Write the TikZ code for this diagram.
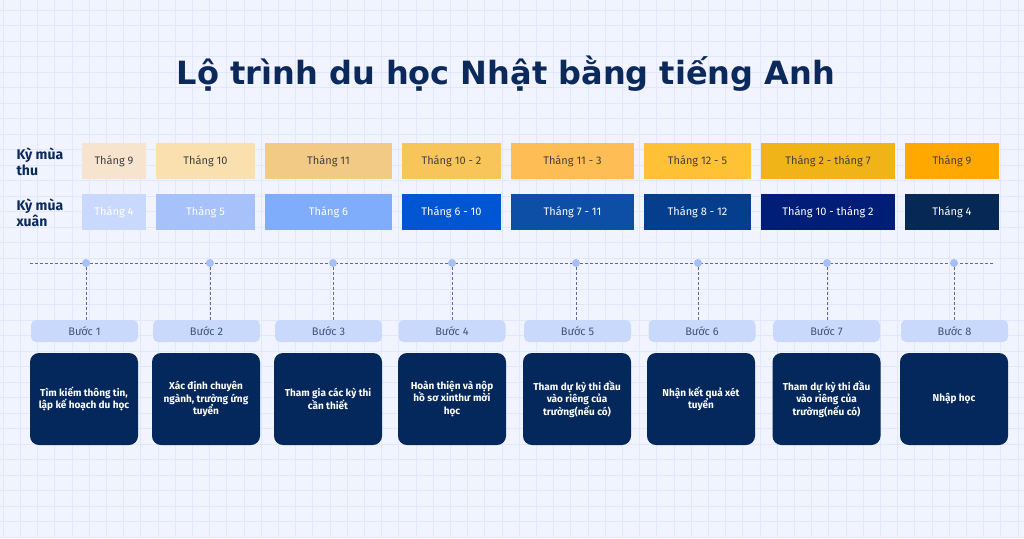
\documentclass[tikz,border=0pt]{standalone}
\usepackage{fontspec}
\setmainfont{Fira Sans}
\newfontfamily\tieudefont{DejaVu Sans}
\usepackage{xcolor}
\usetikzlibrary{positioning,calc}
\definecolor{nen}{HTML}{F1F4FE}
\definecolor{luoi}{HTML}{E2E8FB}
\definecolor{navy}{HTML}{0B2A5B}
\definecolor{hopdam}{HTML}{04285B}
\definecolor{nhat}{HTML}{C9D9FC}
\definecolor{cham}{HTML}{A6C0F7}
% mau ky thu / ky xuan
\definecolor{thu1}{HTML}{F7E4CE}
\definecolor{thu2}{HTML}{FADFAF}
\definecolor{thu3}{HTML}{F2CA85}
\definecolor{thu4}{HTML}{F8C55A}
\definecolor{thu5}{HTML}{FFBE55}
\definecolor{thu6}{HTML}{FFC236}
\definecolor{thu7}{HTML}{F0B418}
\definecolor{thu8}{HTML}{FFA900}
\definecolor{xuan1}{HTML}{C9D9FD}
\definecolor{xuan2}{HTML}{A7C1FB}
\definecolor{xuan3}{HTML}{80ADFB}
\definecolor{xuan4}{HTML}{0055D2}
\definecolor{xuan5}{HTML}{0D4EA6}
\definecolor{xuan6}{HTML}{053E8C}
\definecolor{xuan7}{HTML}{001D77}
\definecolor{xuan8}{HTML}{052954}
\tikzset{
  thang/.style={minimum height=36pt,inner sep=0pt,font=\fontsize{11}{13}\selectfont},
  thu/.style={thang,text=black!75},
  xuan/.style={thang,text=white},
  ky/.style={anchor=west,align=left,text=navy,font=\bfseries\fontsize{14}{16}\selectfont},
  buoc/.style={fill=nhat,rounded corners=5pt,minimum width=107pt,minimum height=22pt,inner sep=0pt,
    text=navy!80,font=\fontsize{11}{13}\selectfont},
  noidung/.style={fill=hopdam,rounded corners=9pt,minimum width=108pt,minimum height=92pt,inner sep=0pt,
    text=white,align=center,font=\bfseries\fontsize{10}{12.5}\selectfont},
  cham/.style={circle,fill=cham,inner sep=0pt,minimum size=8pt},
  net/.style={draw=gray!80!blue,densely dashed,thin}
}
\begin{document}
\begin{tikzpicture}[x=1pt,y=-1pt]
\useasboundingbox (0,0) rectangle (1024,538);
% nen va luoi
\fill[nen] (0,0) rectangle (1024,538);
\foreach \x in {3,20.2,...,1024} \draw[luoi,line width=0.5pt] (\x,0) -- (\x,538);
\foreach \y in {10,25.5,...,538} \draw[luoi,line width=0.5pt] (0,\y) -- (1024,\y);
% tieu de
\node[text=navy,font=\tieudefont\bfseries\fontsize{32}{38}\selectfont] (tieude) at (506,74) {Lộ trình du học Nhật bằng tiếng Anh};
\node[ky] (kythu) at (13,162) {Kỳ mùa\\thu};
\node[ky] (kyxuan) at (13,213) {Kỳ mùa\\xuân};
% ky mua thu
\node[thu,fill=thu1,minimum width=64pt] (t1) at (114,161) {Tháng 9};
\node[thu,fill=thu2,minimum width=99pt] (t2) at (205.5,161) {Tháng 10};
\node[thu,fill=thu3,minimum width=127pt] (t3) at (328.5,161) {Tháng 11};
\node[thu,fill=thu4,minimum width=99pt] (t4) at (451.5,161) {Tháng 10 - 2};
\node[thu,fill=thu5,minimum width=123pt] (t5) at (572.5,161) {Tháng 11 - 3};
\node[thu,fill=thu6,minimum width=107pt] (t6) at (697.5,161) {Tháng 12 - 5};
\node[thu,fill=thu7,minimum width=134pt] (t7) at (828,161) {Tháng 2 - tháng 7};
\node[thu,fill=thu8,minimum width=94pt] (t8) at (952,161) {Tháng 9};
% ky mua xuan
\node[xuan,fill=xuan1,minimum width=64pt] (x1) at (114,212) {Tháng 4};
\node[xuan,fill=xuan2,minimum width=99pt] (x2) at (205.5,212) {Tháng 5};
\node[xuan,fill=xuan3,minimum width=127pt] (x3) at (328.5,212) {Tháng 6};
\node[xuan,fill=xuan4,minimum width=99pt] (x4) at (451.5,212) {Tháng 6 - 10};
\node[xuan,fill=xuan5,minimum width=123pt] (x5) at (572.5,212) {Tháng 7 - 11};
\node[xuan,fill=xuan6,minimum width=107pt] (x6) at (697.5,212) {Tháng 8 - 12};
\node[xuan,fill=xuan7,minimum width=134pt] (x7) at (828,212) {Tháng 10 - tháng 2};
\node[xuan,fill=xuan8,minimum width=94pt] (x8) at (952,212) {Tháng 4};
% duong thoi gian
\coordinate (dau) at (30,263);
\coordinate (cuoi) at (993,263);
\draw[net] (dau) -- (cuoi);
\node[cham] (d1) at (86,263) {};
\node[cham] (d2) at (210,263) {};
\node[cham] (d3) at (333,263) {};
\node[cham] (d4) at (452,263) {};
\node[cham] (d5) at (576,263) {};
\node[cham] (d6) at (698,263) {};
\node[cham] (d7) at (827,263) {};
\node[cham] (d8) at (954,263) {};
% cac buoc
\node[buoc] (b1) at (84.5,331) {Bước 1};
\node[buoc] (b2) at (206.5,331) {Bước 2};
\node[buoc] (b3) at (328.5,331) {Bước 3};
\node[buoc] (b4) at (452,331) {Bước 4};
\node[buoc] (b5) at (577.5,331) {Bước 5};
\node[buoc] (b6) at (702,331) {Bước 6};
\node[buoc] (b7) at (826.5,331) {Bước 7};
\node[buoc] (b8) at (954.5,331) {Bước 8};
\foreach \i in {1,...,8} \draw[net] (d\i) -- (d\i |- b\i.north);
% noi dung
\node[noidung] (n1) at (84,399) {Tìm kiếm thông tin,\\lập kế hoạch du học};
\node[noidung] (n2) at (206,399) {Xác định chuyên\\ngành, trường ứng\\tuyển};
\node[noidung] (n3) at (328,399) {Tham gia các kỳ thi\\cần thiết};
\node[noidung] (n4) at (452,399) {Hoàn thiện và nộp\\hồ sơ xinthư mời\\học};
\node[noidung] (n5) at (577,399) {Tham dự kỳ thi đầu\\vào riêng của\\trường(nếu có)};
\node[noidung] (n6) at (701,399) {Nhận kết quả xét\\tuyển};
\node[noidung] (n7) at (826.5,399) {Tham dự kỳ thi đầu\\vào riêng của\\trường(nếu có)};
\node[noidung] (n8) at (954,399) {Nhập học};
\end{tikzpicture}
\end{document}
